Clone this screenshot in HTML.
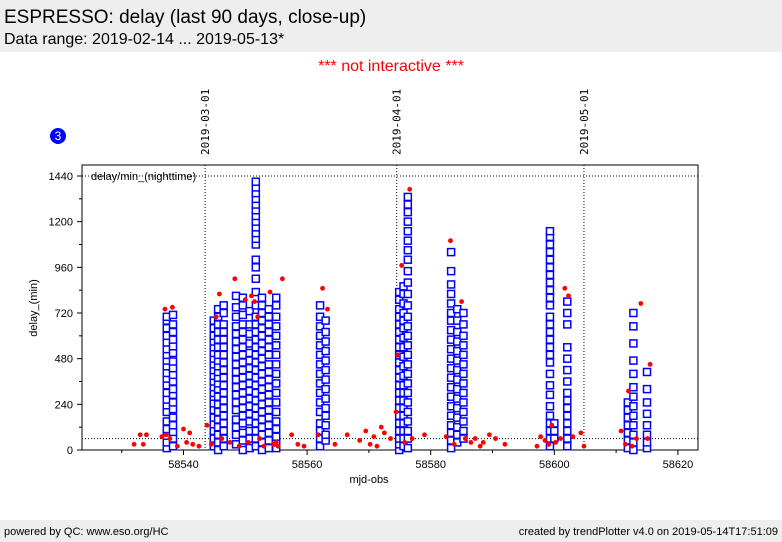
<!DOCTYPE html>
<html><head><meta charset="utf-8"><style>
body{margin:0;width:782px;height:542px;background:#fff;font-family:"Liberation Sans",sans-serif;overflow:hidden;position:relative}
.hdr{position:absolute;left:0;top:0;width:782px;height:52px;background:#eeeeee}
.ftr{position:absolute;left:0;top:520px;width:782px;height:22px;background:#eeeeee;font-size:11px}
</style></head><body>
<div class="hdr">
<div style="position:absolute;left:4px;top:7px;font-size:19px">ESPRESSO: delay (last 90 days, close-up)</div>
<div style="position:absolute;left:4px;top:31px;font-size:16px">Data range: 2019-02-14 ... 2019-05-13*</div>
</div>
<div style="position:absolute;left:0;width:782px;text-align:center;top:58px;font-size:16px;color:#ff0000">*** not interactive ***</div>
<svg id="chart" width="782" height="542" style="position:absolute;left:0;top:0" xmlns="http://www.w3.org/2000/svg"></svg>
<div class="ftr">
<span style="position:absolute;left:4px;top:6px">powered by QC: www.eso.org/HC</span>
<span style="position:absolute;right:4px;top:6px">created by trendPlotter v4.0 on 2019-05-14T17:51:09</span>
</div>
<script>
const xTicks=[58540,58560,58580,58600,58620];
const yTicks=[0,240,480,720,960,1200,1440];
const dateLines=[58543.5,58574.5,58604.8];
const dateLabels=["2019-03-01","2019-04-01","2019-05-01"];
const refLines=[1440,60];
const blueMjd=[58537.3,58538.3,58544.9,58545.6,58546.5,58548.5,58549.6,58550.7,58551.7,58552.7,58553.8,58555.0,58562.1,58563.0,58574.9,58575.6,58576.3,58583.3,58584.3,58585.3,58599.3,58600.0,58602.1,58611.9,58612.8,58615.0];
const blueVals=[
[10,40,75,110,150,200,235,265,300,340,375,405,440,470,500,530,565,600,640,680,700],
[20,60,95,130,170,215,250,290,320,360,395,430,465,510,545,580,620,660,710],
[20,60,100,135,170,210,245,280,300,330,360,390,420,450,480,510,540,570,600,640,680],
[0,40,80,120,160,200,240,280,320,350,380,410,440,470,500,540,580,620,660,700,740],
[20,60,100,140,180,220,260,300,340,380,420,460,500,540,580,620,660,720,760],
[30,80,120,160,210,250,290,330,370,410,450,490,530,570,610,650,700,750,810],
[0,50,90,140,180,220,260,300,340,380,420,460,500,540,580,620,660,710,760,800],
[10,60,100,150,190,230,270,310,350,390,430,470,510,560,610,660,730],
[20,60,100,140,180,220,260,300,340,380,420,460,500,540,580,620,660,700,760,830,900,960,1000,1080,1110,1140,1170,1200,1230,1260,1290,1320,1350,1380,1410],
[0,40,80,120,160,200,240,280,320,360,400,440,480,520,560,600,640,680,720,760,800],
[10,50,90,130,170,210,250,290,330,370,410,450,500,540,580,620,660,700,740],
[10,40,70,110,150,200,250,300,350,400,450,500,550,600,650,700,760,800],
[20,60,100,140,200,250,300,350,400,450,500,550,600,650,700,760],
[50,80,130,180,220,270,320,370,420,470,520,570,620,680],
[0,30,60,100,140,180,220,260,300,340,380,420,460,500,540,580,620,660,700,740,790,830],
[20,60,100,140,180,220,260,300,340,390,440,490,540,590,640,680,720,770,820,860],
[10,60,100,150,200,250,300,350,400,450,500,550,600,650,700,760,820,880,940,1000,1050,1100,1150,1200,1250,1290,1330],
[10,50,90,130,180,230,280,330,380,430,480,530,580,630,680,720,770,820,870,940,1040],
[40,80,120,170,220,270,320,370,420,470,520,570,620,680,740],
[60,100,150,200,250,300,350,400,450,500,550,600,660,720],
[20,60,100,140,180,230,290,340,400,460,500,540,580,620,660,700,760,800,840,880,920,960,1000,1040,1080,1120,1150],
[60,100,140],
[20,60,100,140,180,220,260,300,360,420,480,540,660,720,780],
[10,50,90,130,170,210,250],
[0,40,80,130,180,230,280,330,400,470,560,650,720],
[10,40,80,130,190,250,320,410]];
const redMjd=[58532,58533,58533.5,58534,58536.5,58537,58537.2,58537.8,58538.2,58539,58540,58540.5,58541,58541.5,58542.5,58543.8,58544.5,58545.3,58545.8,58546.2,58547.5,58548.3,58549,58550,58550.5,58551,58551.5,58552,58552.3,58553,58554,58554.5,58555,58555.3,58556,58557.5,58558.5,58559.5,58561.8,58562.5,58563.3,58564.5,58566.5,58568.5,58569.5,58570.2,58570.8,58571.3,58572,58572.5,58573.5,58574.4,58574.7,58575.3,58575.8,58576.6,58577,58579,58582.5,58583.2,58583.8,58585,58585.6,58586.5,58587.2,58588,58588.5,58589.5,58590.5,58592,58597.2,58597.8,58598.5,58599.1,58599.6,58600.2,58601,58601.7,58602.3,58603,58604.3,58604.8,58610.8,58611.5,58612,58612.6,58613.3,58614,58615.1,58615.5];
const redVals=[30,80,30,80,70,740,80,60,750,20,110,40,90,30,20,130,30,700,820,60,40,900,20,790,40,810,780,700,60,20,830,30,40,20,900,80,30,20,80,850,740,30,80,50,100,30,70,20,120,90,60,200,500,970,40,1370,60,80,70,1100,30,780,60,40,60,20,40,80,60,30,20,70,50,30,130,40,60,850,810,70,90,20,100,30,310,20,60,770,60,450];
const NS='http://www.w3.org/2000/svg';
const svg=document.getElementById('chart');
const L=82,R=698,T=165,B=450;
const xs=m=>183.5+(m-58540)*6.18;
const ys=v=>450-v*0.19028;
function el(t,a,p){const e=document.createElementNS(NS,t);for(const k in a)e.setAttribute(k,a[k]);(p||svg).appendChild(e);return e;}
const g=el('g',{});


const fr=el('rect',{x:L,y:T,width:R-L,height:B-T,fill:'none',stroke:'#000','stroke-width':1},g);


dateLines.forEach((m,i)=>{
 const ln=el('line',{x1:xs(m),x2:xs(m),y1:T,y2:B,stroke:'#000','stroke-dasharray':'1,2','stroke-width':1},g);
 
 
 const t=el('text',{x:0,y:0,transform:`translate(${xs(m)+4},155) rotate(-90)`,'font-size':11,'font-family':'DejaVu Sans Mono, Liberation Mono, monospace'});
 t.textContent=dateLabels[i];
 
 
});
refLines.forEach(v=>{
 const ln=el('line',{x1:L,x2:R,y1:ys(v),y2:ys(v),stroke:'#000','stroke-dasharray':'1,2','stroke-width':1},g);
 
 
});
xTicks.forEach(v=>{
 el('line',{x1:xs(v),x2:xs(v),y1:B,y2:B+5,stroke:'#000'},g);
 const t=el('text',{x:xs(v),y:B+18,'text-anchor':'middle','font-size':11},g);t.textContent=v;
 
 
});
for(let m=58530;m<=58620;m+=10){if(m%20)el('line',{x1:xs(m),x2:xs(m),y1:B,y2:B+3,stroke:'#000'},g);}
yTicks.forEach(v=>{
 el('line',{x1:L-5,x2:L,y1:ys(v),y2:ys(v),stroke:'#000'},g);
 const t=el('text',{x:L-9,y:ys(v)+4,'text-anchor':'end','font-size':11},g);t.textContent=v;
 
 
});
for(let v=120;v<1500;v+=240)el('line',{x1:L-3,x2:L,y1:ys(v),y2:ys(v),stroke:'#000'},g);
const xl=el('text',{x:369,y:483,'text-anchor':'middle','font-size':11});xl.textContent='mjd-obs';


const yl=el('text',{x:0,y:0,transform:'translate(37,308) rotate(-90)','text-anchor':'middle','font-size':11});yl.textContent='delay_(min)';


const pl=el('text',{x:91,y:180,'font-size':11});pl.textContent='delay/min_(nighttime)';


blueMjd.forEach((m,i)=>{blueVals[i].forEach(v=>{
 const r=el('rect',{x:xs(m)-3.5,y:ys(v)-3.5,width:7,height:7,fill:'#fff',stroke:'#0000ff','stroke-width':1.5},g);
 
 
});});
redMjd.forEach((m,i)=>{
 const c=el('circle',{cx:xs(m),cy:ys(redVals[i]),r:2.4,fill:'#ff0000'},g);
 
 
});
const badge=el('circle',{cx:58,cy:136,r:8,fill:'#0000ff'});


const bt=el('text',{x:58,y:140,'text-anchor':'middle','font-size':12,fill:'#fff'});bt.textContent='3';


</script>
</body></html>
